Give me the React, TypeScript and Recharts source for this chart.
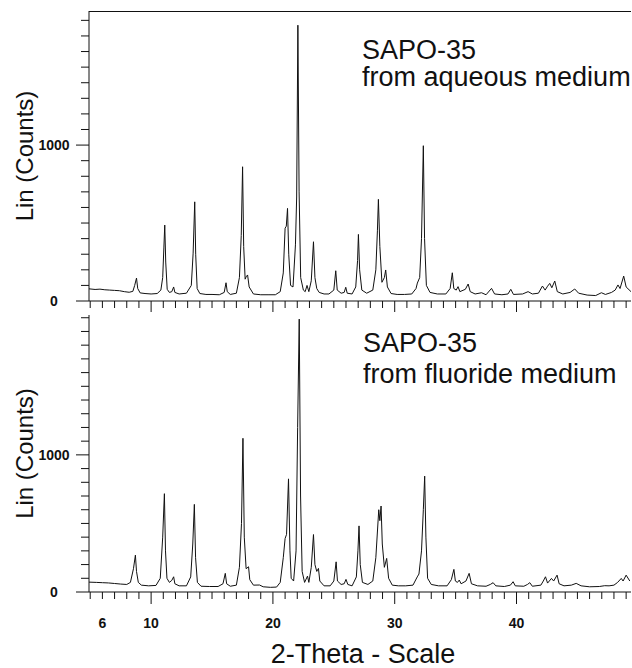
import { LineChart, Line, XAxis, YAxis } from "recharts"

// 2-theta range shown on both panels
const thetaDomain = [4.9, 49.4]

// SAPO-35 from aqueous medium: [2-theta, counts]
const aqueousPattern: [number, number][] = [
  [4.9, 78], [5.4, 74], [5.8, 76], [6.2, 72], [6.6, 70], [7.0, 68], [7.4, 66], [7.8, 60],
  [8.2, 56], [8.5, 62], [8.65, 100], [8.8, 147], [8.9, 80], [9.1, 52], [9.5, 48], [10.0, 45],
  [10.5, 48], [10.8, 70], [10.95, 150], [11.05, 346], [11.12, 487], [11.2, 250], [11.32, 75],
  [11.5, 55], [11.7, 60], [11.85, 90], [11.95, 55], [12.3, 45], [12.9, 50], [13.3, 100],
  [13.45, 307], [13.58, 636], [13.66, 300], [13.78, 80], [14.0, 48], [14.5, 42], [15.0, 42],
  [15.6, 40], [16.0, 55], [16.15, 117], [16.25, 60], [16.5, 42], [17.0, 50], [17.25, 150],
  [17.4, 420], [17.51, 861], [17.6, 350], [17.72, 140], [17.8, 155], [17.92, 167], [18.05, 90],
  [18.4, 45], [19.0, 40], [19.6, 40], [20.2, 40], [20.6, 60], [20.85, 180], [21.0, 467],
  [21.1, 480], [21.2, 594], [21.3, 300], [21.45, 100], [21.65, 90], [21.85, 360], [21.95, 667],
  [22.05, 1769], [22.15, 700], [22.28, 150], [22.5, 70], [22.65, 60], [22.8, 100], [22.95, 60],
  [23.15, 130], [23.33, 380], [23.45, 150], [23.6, 80], [23.8, 55], [24.2, 45], [24.6, 45],
  [25.0, 70], [25.16, 194], [25.28, 70], [25.6, 50], [25.85, 55], [25.98, 88], [26.1, 50],
  [26.5, 45], [26.8, 90], [26.95, 260], [27.02, 427], [27.12, 200], [27.3, 70], [27.7, 50],
  [28.2, 70], [28.45, 200], [28.58, 450], [28.66, 652], [28.78, 350], [28.95, 120], [29.15, 150],
  [29.26, 199], [29.4, 90], [29.7, 48], [30.2, 42], [30.8, 42], [31.4, 45], [31.75, 80],
  [31.86, 115], [32.05, 150], [32.2, 400], [32.35, 996], [32.45, 400], [32.6, 100], [32.9, 55],
  [33.5, 45], [34.2, 45], [34.55, 80], [34.73, 181], [34.85, 80], [35.05, 70], [35.2, 92],
  [35.35, 60], [35.8, 75], [36.03, 109], [36.2, 60], [36.6, 45], [37.13, 53], [37.5, 40],
  [37.95, 81], [38.2, 45], [38.8, 40], [39.3, 45], [39.53, 75], [39.75, 42], [40.5, 45],
  [40.95, 60], [41.3, 45], [41.8, 50], [42.13, 96], [42.35, 70], [42.55, 95], [42.73, 113],
  [42.9, 85], [43.14, 128], [43.35, 60], [43.8, 45], [44.4, 55], [44.78, 77], [45.1, 50],
  [45.8, 38], [46.5, 35], [46.97, 53], [47.3, 42], [47.8, 55], [48.1, 70], [48.33, 103],
  [48.5, 80], [48.8, 160], [49.0, 90], [49.4, 60],
]

// SAPO-35 from fluoride medium: [2-theta, counts]
const fluoridePattern: [number, number][] = [
  [4.9, 72], [5.5, 70], [6.0, 68], [6.5, 66], [7.0, 62], [7.5, 58], [8.0, 55], [8.3, 70],
  [8.55, 170], [8.71, 269], [8.8, 150], [8.95, 70], [9.2, 50], [9.8, 45], [10.4, 48],
  [10.75, 100], [10.95, 400], [11.09, 717], [11.18, 300], [11.3, 100], [11.5, 70], [11.7, 85],
  [11.85, 111], [11.95, 60], [12.3, 45], [12.9, 45], [13.25, 110], [13.42, 350], [13.55, 639],
  [13.65, 250], [13.8, 70], [14.1, 42], [14.8, 40], [15.5, 40], [15.9, 60], [16.09, 136],
  [16.2, 60], [16.5, 42], [17.0, 50], [17.25, 180], [17.42, 500], [17.54, 1121], [17.65, 400],
  [17.8, 170], [18.0, 184], [18.1, 90], [18.4, 50], [18.9, 51], [19.2, 38], [19.8, 34],
  [20.3, 36], [20.6, 70], [20.85, 250], [21.0, 390], [21.12, 420], [21.28, 825], [21.4, 300],
  [21.5, 100], [21.7, 80], [21.9, 300], [22.03, 1200], [22.16, 1990], [22.27, 700], [22.4, 150],
  [22.6, 70], [22.84, 116], [22.95, 70], [23.15, 180], [23.33, 419], [23.45, 200], [23.6, 150],
  [23.74, 172], [23.85, 80], [24.2, 45], [24.7, 45], [25.0, 80], [25.19, 220], [25.3, 80],
  [25.6, 55], [25.85, 60], [26.0, 92], [26.15, 55], [26.5, 45], [26.85, 110], [26.98, 300],
  [27.07, 482], [27.17, 200], [27.35, 70], [27.8, 55], [28.2, 80], [28.45, 250], [28.69, 600],
  [28.78, 520], [28.88, 627], [28.98, 350], [29.15, 180], [29.34, 245], [29.5, 100], [29.8, 50],
  [30.3, 45], [30.9, 45], [31.5, 50], [31.85, 110], [31.99, 131], [32.2, 300], [32.35, 600],
  [32.46, 845], [32.56, 400], [32.7, 100], [33.0, 55], [33.6, 45], [34.3, 45], [34.65, 90],
  [34.86, 165], [34.98, 80], [35.15, 70], [35.3, 87], [35.45, 60], [35.85, 80], [36.11, 136],
  [36.3, 60], [36.8, 45], [37.5, 42], [37.85, 55], [38.08, 68], [38.3, 45], [39.0, 40],
  [39.5, 50], [39.72, 75], [39.9, 45], [40.6, 42], [40.9, 55], [41.09, 68], [41.3, 42],
  [42.0, 50], [42.2, 80], [42.38, 111], [42.55, 65], [42.87, 99], [43.05, 80], [43.33, 123],
  [43.5, 60], [43.9, 45], [44.5, 50], [44.9, 63], [45.3, 45], [46.0, 38], [46.8, 40],
  [47.24, 46], [47.6, 45], [48.0, 50], [48.3, 70], [48.6, 99], [48.75, 80], [49.0, 123],
  [49.3, 80],
]

const thetaTicks = [
  5, 6, 7, 8, 9, 10, 11, 12, 13, 14, 15, 16, 17, 18, 19, 20, 21, 22, 23, 24, 25, 26, 27,
  28, 29, 30, 31, 32, 33, 34, 35, 36, 37, 38, 39, 40, 41, 42, 43, 44, 45, 46, 47, 48, 49,
]
const thetaMajor = [10, 20, 30, 40]
const thetaLabels = [6, 10, 20, 30, 40]

const countTicksTop = [0, 100, 200, 300, 400, 500, 600, 700, 800, 900, 1000, 1100, 1200, 1300, 1400, 1500, 1600, 1700, 1800]
const countTicksBottom = [0, 100, 200, 300, 400, 500, 600, 700, 800, 900, 1000, 1100, 1200, 1300, 1400, 1500, 1600, 1700, 1800, 1900, 2000]
const countLabels = [0, 1000]

const topMax = 1860
const bottomMax = 2020

const INK = "#111"
const FONT = "'Liberation Sans', Arial, sans-serif"

// built-in tick lines are the minor ones; majors get an extension drawn here
const X_TICK = 7
const Y_TICK = 8

const toRows = (pts: [number, number][]) => pts.map(([theta, counts]) => ({ theta, counts }))

function CountTick(props: any) {
  const x = Number(props.x)
  const y = Number(props.y)
  const major = countLabels.includes(props.payload.value)
  if (!major) return <g />
  return (
    <g>
      <path d={`M${x},${y}H${x - 5}`} stroke={INK} strokeWidth={1} fill="none" />
      <text x={54} y={y} dy={5} textAnchor="middle" fontSize={14} fontWeight="bold" fill={INK} fontFamily={FONT}>
        {props.payload.value}
      </text>
    </g>
  )
}

function ThetaTick(props: any) {
  const x = Number(props.x)
  const y = Number(props.y)
  const v = props.payload.value
  const major = thetaMajor.includes(v)
  return (
    <g>
      {major && <path d={`M${x},${y}V${y + 5}`} stroke={INK} strokeWidth={1} fill="none" />}
      {props.showLabel && thetaLabels.includes(v) && (
        <text x={x} y={y} dy={29} textAnchor="middle" fontSize={14} fontWeight="bold" fill={INK} fontFamily={FONT}>
          {v}
        </text>
      )}
    </g>
  )
}

function YTitle(props: any) {
  const vb = props.viewBox
  const cx = vb.x + 24
  const cy = vb.y + vb.height / 2
  return (
    <text transform={`translate(${cx},${cy}) rotate(-90)`} textAnchor="middle" dominantBaseline="central"
      fontSize={24} fill={INK} fontFamily={FONT}>
      Lin (Counts)
    </text>
  )
}

function XTitle(props: any) {
  const vb = props.viewBox
  return (
    <text x={vb.x + vb.width / 2 + 3} y={vb.y + 71} textAnchor="middle" fontSize={27} fill={INK} fontFamily={FONT}>
      2-Theta - Scale
    </text>
  )
}

function Panel({ rows, yMax, yTicks, width, height, margin, xHeight, bottom }: any) {
  return (
    <LineChart width={width} height={height} data={rows} margin={margin}>
      <XAxis type="number" dataKey="theta" domain={thetaDomain} allowDataOverflow ticks={thetaTicks}
        interval={0} height={xHeight} tickSize={X_TICK} tickMargin={0} tickLine={{ stroke: INK }}
        axisLine={{ stroke: INK }} tick={(p: any) => <ThetaTick {...p} showLabel={bottom} />}
        label={bottom ? { content: (p: any) => <XTitle {...p} /> } : undefined} />
      <YAxis type="number" domain={[0, yMax]} allowDataOverflow ticks={yTicks} interval={0} width={89}
        tickSize={Y_TICK} tickMargin={0} tickLine={{ stroke: INK }} axisLine={{ stroke: INK }}
        tick={(p: any) => <CountTick {...p} />} label={{ content: (p: any) => <YTitle {...p} /> }} />
      <Line type="linear" dataKey="counts" stroke={INK} strokeWidth={1} dot={false} isAnimationActive={false} />
    </LineChart>
  )
}

export default function App() {
  return (
    <div style={{ position: "relative", width: 632, height: 668, background: "#fff", fontFamily: FONT }}>
      <style>{"body{margin:0}"}</style>
      <div style={{ position: "absolute", left: 0, top: 0 }}>
        <Panel rows={toRows(aqueousPattern)} yMax={topMax} yTicks={countTicksTop} width={632} height={312}
          margin={{ top: 11, right: 1, bottom: 0, left: 0 }} xHeight={11} bottom={false} />
      </div>
      <div style={{ position: "absolute", left: 0, top: 312 }}>
        <Panel rows={toRows(fluoridePattern)} yMax={bottomMax} yTicks={countTicksBottom} width={632} height={356}
          margin={{ top: 3, right: 1, bottom: 0, left: 0 }} xHeight={76} bottom />
      </div>
      <svg width={632} height={668} style={{ position: "absolute", left: 0, top: 0, pointerEvents: "none" }}>
        {/* frame line along the top of the upper panel */}
        <path d="M89,11.5H631" stroke={INK} strokeWidth={1} fill="none" />
        <g fontFamily={FONT} fontSize={27} fill={INK}>
          <text x={362} y={59}>SAPO-35</text>
          <text x={362} y={86}>from aqueous medium</text>
          <text x={363} y={352}>SAPO-35</text>
          <text x={363} y={383}>from fluoride medium</text>
        </g>
      </svg>
    </div>
  )
}
